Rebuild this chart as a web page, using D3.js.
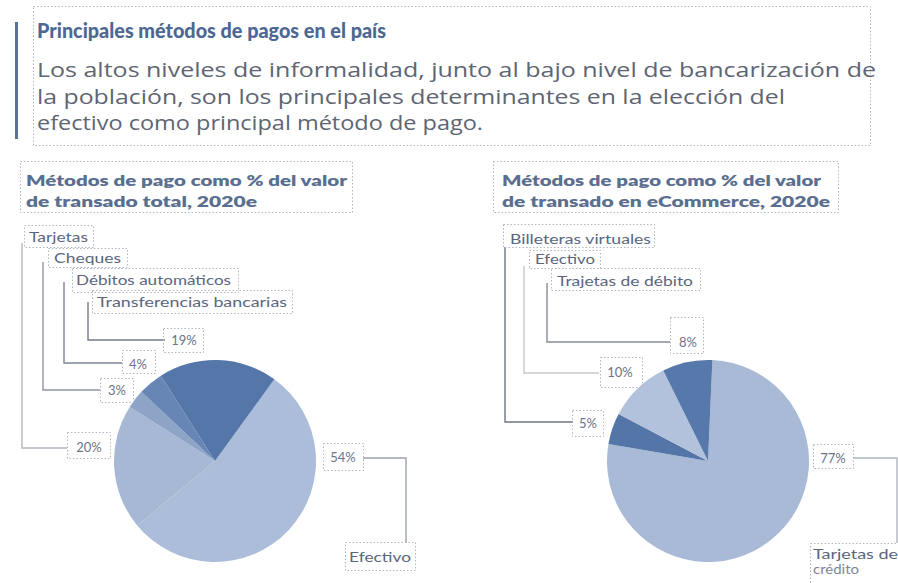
<!DOCTYPE html>
<html lang="es">
<head>
<meta charset="utf-8">
<title>Principales métodos de pagos en el país</title>
<script src="https://cdn.jsdelivr.net/npm/d3@7"></script>
<style>
  html, body { margin: 0; padding: 0; background: #ffffff; }
  svg { display: block; }
</style>
</head>
<body>
<svg id="chart" width="898" height="583"></svg>
<script>
// ---- Data -------------------------------------------------------------
const headerTitle = "Principales métodos de pagos en el país";
const headerBody = [
  "Los altos niveles de informalidad, junto al bajo nivel de bancarización de",
  "la población, son los principales determinantes en la elección del",
  "efectivo como principal método de pago."
];

const totalTitle = ["Métodos de pago como % del valor", "de transado total, 2020e"];
const totalCategories = ["Efectivo", "Tarjetas", "Cheques", "Débitos automáticos", "Transferencias bancarias"];
const totalValues = [54, 20, 3, 4, 19];

const ecomTitle = ["Métodos de pago como % del valor", "de transado en eCommerce, 2020e"];
const ecomCategories = ["Tarjetas de crédito", "Billeteras virtuales", "Efectivo", "Trajetas de débito"];
const ecomValues = [77, 5, 10, 8];

// ---- Styling / layout ----------------------------------------------------
const totalColors = ["#abbdd8", "#a6b8d4", "#8da4c7", "#6786b5", "#5476a9"];
const ecomColors = ["#a8bad6", "#5475a8", "#b2c2dc", "#5778aa"];

const dotted = { stroke: "#aeb6c4", dash: "1.5,2" };

const svg = d3.select("#chart");
svg.append("rect").attr("width", 898).attr("height", 583).attr("fill", "#ffffff");

function box(x0, y0, x1, y1) {
  svg.append("rect")
    .attr("x", x0 + 0.5).attr("y", y0 + 0.5)
    .attr("width", x1 - x0).attr("height", y1 - y0)
    .attr("fill", "none")
    .attr("stroke", dotted.stroke)
    .attr("stroke-width", 1)
    .attr("stroke-dasharray", dotted.dash);
}

function fitText(str, x, y, width, o) {
  const t = svg.append("text")
    .attr("x", x).attr("y", y)
    .attr("font-family", o.family || "Lato, 'Open Sans', sans-serif")
    .attr("font-size", o.size)
    .attr("font-weight", o.weight || 400)
    .attr("fill", o.color)
    .attr("text-anchor", o.anchor || "start")
    .text(str);
  if (width) t.attr("textLength", width).attr("lengthAdjust", "spacingAndGlyphs");
  return t;
}

function leader(points, color) {
  svg.append("path")
    .attr("d", d3.line()(points))
    .attr("fill", "none")
    .attr("stroke", color)
    .attr("stroke-width", 1.4);
}

// ---- Header -----------------------------------------------------------
svg.append("rect").attr("x", 15).attr("y", 22).attr("width", 3).attr("height", 117).attr("fill", "#5a7299");
box(33, 6, 870, 145);
fitText(headerTitle, 37, 38, 349, { size: 21, weight: 900, color: "#4c6892" });
const bodyWidths = [839, 748, 446];
headerBody.forEach((line, i) => {
  fitText(line, 37, 77 + i * 26.5, bodyWidths[i], { size: 19.5, color: "#5e6572", family: "'Open Sans', Lato, sans-serif" });
});

// ---- Pie helper ----------------------------------------------------------
function drawPie(values, colors, cx, cy, r, startDeg) {
  const a0 = startDeg * Math.PI / 180;
  const pie = d3.pie().sort(null).startAngle(a0).endAngle(a0 + 2 * Math.PI);
  const arc = d3.arc().innerRadius(0).outerRadius(r);
  const g = svg.append("g").attr("transform", `translate(${cx},${cy})`);
  g.selectAll("path")
    .data(pie(values))
    .join("path")
    .attr("d", arc)
    .attr("fill", (d, i) => colors[i]);
}

const labelFont = { size: 12.5, color: "#5a6680", family: "Lato, 'Open Sans', sans-serif" };
const pctFont = { size: 13, color: "#6a7387", anchor: "middle", family: "Lato, 'Open Sans', sans-serif" };
const subFont = { size: 14.5, weight: 800, color: "#5a6f8f" };

// ---- Left chart: total ---------------------------------------------------
box(20, 161, 352, 212);
fitText(totalTitle[0], 26, 186, 321, subFont);
fitText(totalTitle[1], 26, 207, 231, subFont);

drawPie(totalValues, totalColors, 215, 461, 101, 36);

const totalLayout = [
  // Efectivo
  { name: [345, 542, 415, 570, 349, 562, 62], pct: [323, 443, 363, 470, 343, 462],
    line: [[363, 458], [406, 458], [406, 543]], lc: "#9aa1ad" },
  // Tarjetas
  { name: [24, 225, 93, 247, 29, 242, 59], pct: [67, 432, 110, 458, 89, 452],
    line: [[22, 243], [22, 448], [67, 448]], lc: "#b3b8c0" },
  // Cheques
  { name: [48, 248, 127, 267, 54, 263, 67], pct: [100, 378, 133, 402, 117, 395],
    line: [[43, 262], [43, 390], [100, 390]], lc: "#8f96a3" },
  // Débitos automáticos
  { name: [72, 268, 238, 292, 76, 285, 155], pct: [122, 350, 155, 373, 138, 369],
    line: [[64, 282], [64, 363], [122, 363]], lc: "#7d8594" },
  // Transferencias bancarias
  { name: [92, 290, 292, 313, 97, 307, 190], pct: [163, 328, 203, 352, 184, 345],
    line: [[88, 302], [88, 340], [165, 340]], lc: "#737b8a" }
];

totalLayout.forEach((L, i) => {
  leader(L.line, L.lc);
  box(L.name[0], L.name[1], L.name[2], L.name[3]);
  fitText(totalCategories[i], L.name[4], L.name[5], L.name[6], labelFont);
  box(L.pct[0], L.pct[1], L.pct[2], L.pct[3]);
  fitText(`${totalValues[i]}%`, L.pct[4], L.pct[5], null, pctFont);
});

// ---- Right chart: eCommerce -----------------------------------------------
box(493, 161, 838, 212);
fitText(ecomTitle[0], 502, 186, 319, subFont);
fitText(ecomTitle[1], 502, 207, 328, subFont);

drawPie(ecomValues, ecomColors, 708, 461, 101, 2.5);

const ecomLayout = [
  // Tarjetas de crédito
  { name: [810, 543, 905, 590, 813, 559, 85], pct: [813, 444, 853, 468, 833, 463],
    line: [[853, 458], [897, 458], [897, 543]], lc: "#b0b6bf" },
  // Billeteras virtuales
  { name: [503, 224, 654, 247, 510, 244, 141], pct: [572, 410, 603, 436, 588, 428],
    line: [[505, 247], [505, 422], [573, 422]], lc: "#6e7684" },
  // Efectivo
  { name: [529, 250, 600, 268, 535, 264, 60], pct: [600, 357, 642, 387, 620, 377],
    line: [[524, 266], [524, 373], [599, 373]], lc: "#c3c7cd" },
  // Trajetas de débito
  { name: [551, 268, 700, 290, 557, 286, 136], pct: [670, 317, 703, 353, 688, 347],
    line: [[547, 283], [547, 342], [670, 342]], lc: "#858c99" }
];

ecomLayout.forEach((L, i) => {
  leader(L.line, L.lc);
  box(L.name[0], L.name[1], L.name[2], L.name[3]);
  const label = ecomCategories[i];
  if (i === 0) {
    // two-line label at the right edge
    const parts = ["Tarjetas de", "crédito"];
    fitText(parts[0], L.name[4], L.name[5], L.name[6], labelFont);
    fitText(parts[1], L.name[4], L.name[5] + 15, 46, { ...labelFont, color: "#7d8697" });
  } else {
    fitText(label, L.name[4], L.name[5], L.name[6], labelFont);
  }
  box(L.pct[0], L.pct[1], L.pct[2], L.pct[3]);
  fitText(`${ecomValues[i]}%`, L.pct[4], L.pct[5], null, pctFont);
});
</script>
</body>
</html>
